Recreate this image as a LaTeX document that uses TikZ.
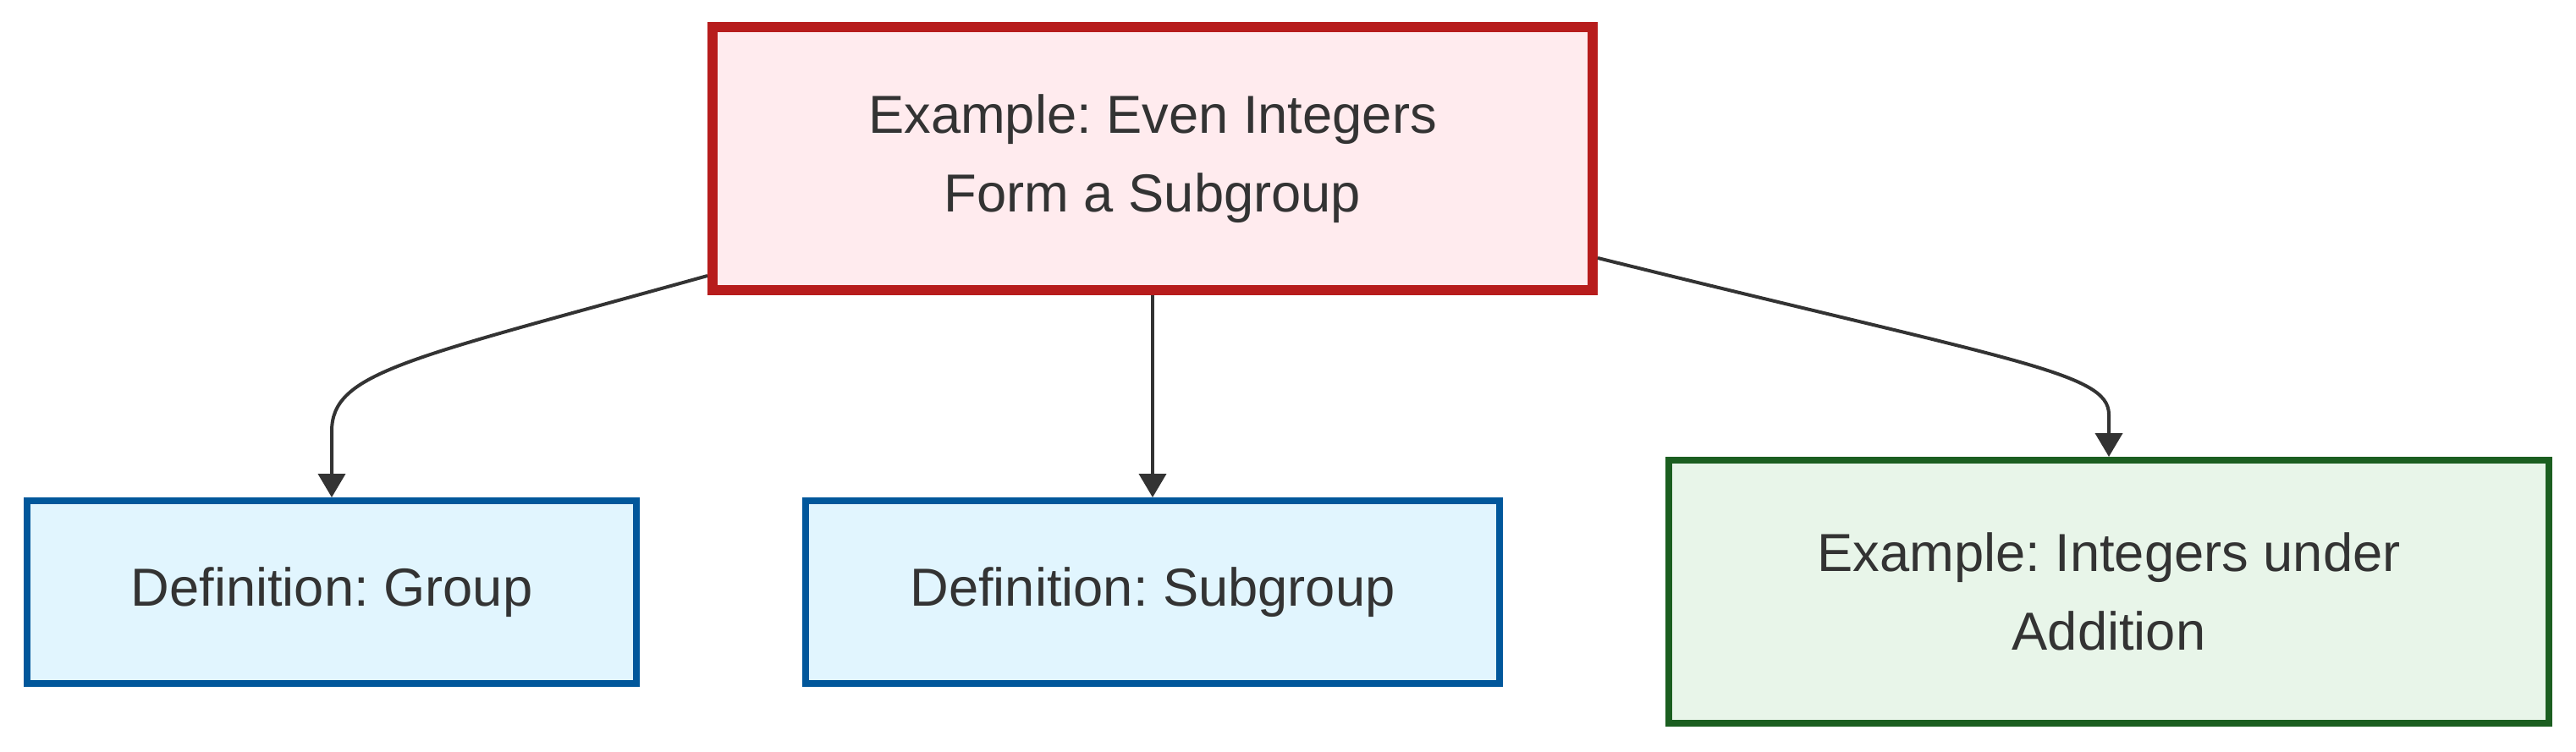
\documentclass[tikz,border=0pt]{standalone}
\usepackage{fontspec}
\setmainfont{Liberation Sans}
\usepackage{xcolor}
\usetikzlibrary{arrows.meta}
\definecolor{txtgray}{HTML}{333333}
\definecolor{redline}{HTML}{B71C1C}
\definecolor{redfill}{HTML}{FFEBEE}
\definecolor{blueline}{HTML}{01579B}
\definecolor{bluefill}{HTML}{E1F5FE}
\definecolor{greenline}{HTML}{1B5E20}
\definecolor{greenfill}{HTML}{E8F5E9}
\frenchspacing
\begin{document}
\begin{tikzpicture}[x=1cm,y=1cm,
  box/.style={rectangle,align=center,text=txtgray,font=\fontsize{18}{26.5}\selectfont,inner sep=0pt},
  exred/.style={box,draw=redline,fill=redfill,line width=0.12cm,minimum width=10.4cm,minimum height=3.11cm},
  defblue/.style={box,draw=blueline,fill=bluefill,line width=0.08cm,minimum height=2.16cm},
  exgreen/.style={box,draw=greenline,fill=greenfill,line width=0.08cm,minimum width=10.4cm,minimum height=3.11cm},
  link/.style={draw=txtgray,line width=0.04cm,-{Triangle[width=0.32cm,length=0.28cm]}}]
\useasboundingbox (0,0) rectangle (30.44,8.88);
\node[exred] (even) at (13.62,7.005) {Example: Even Integers\\Form a Subgroup};
\node[defblue,minimum width=7.2cm] (group) at (3.92,1.88) {Definition: Group};
\node[defblue,minimum width=8.2cm] (subgroup) at (13.62,1.88) {Definition: Subgroup};
\node[exgreen] (intadd) at (24.92,1.885) {Example: Integers under\\Addition};
\draw[link] ([yshift=2.3mm]even.south west) .. controls (4.80,4.63) and (3.92,4.48) .. (3.92,3.78) -- (group.north);
\draw[link] (even.south) -- (subgroup.north);
\draw[link] ([yshift=4.4mm]even.south east) .. controls (23.80,4.61) and (24.92,4.48) .. (24.92,3.98) -- (intadd.north);
\end{tikzpicture}
\end{document}
